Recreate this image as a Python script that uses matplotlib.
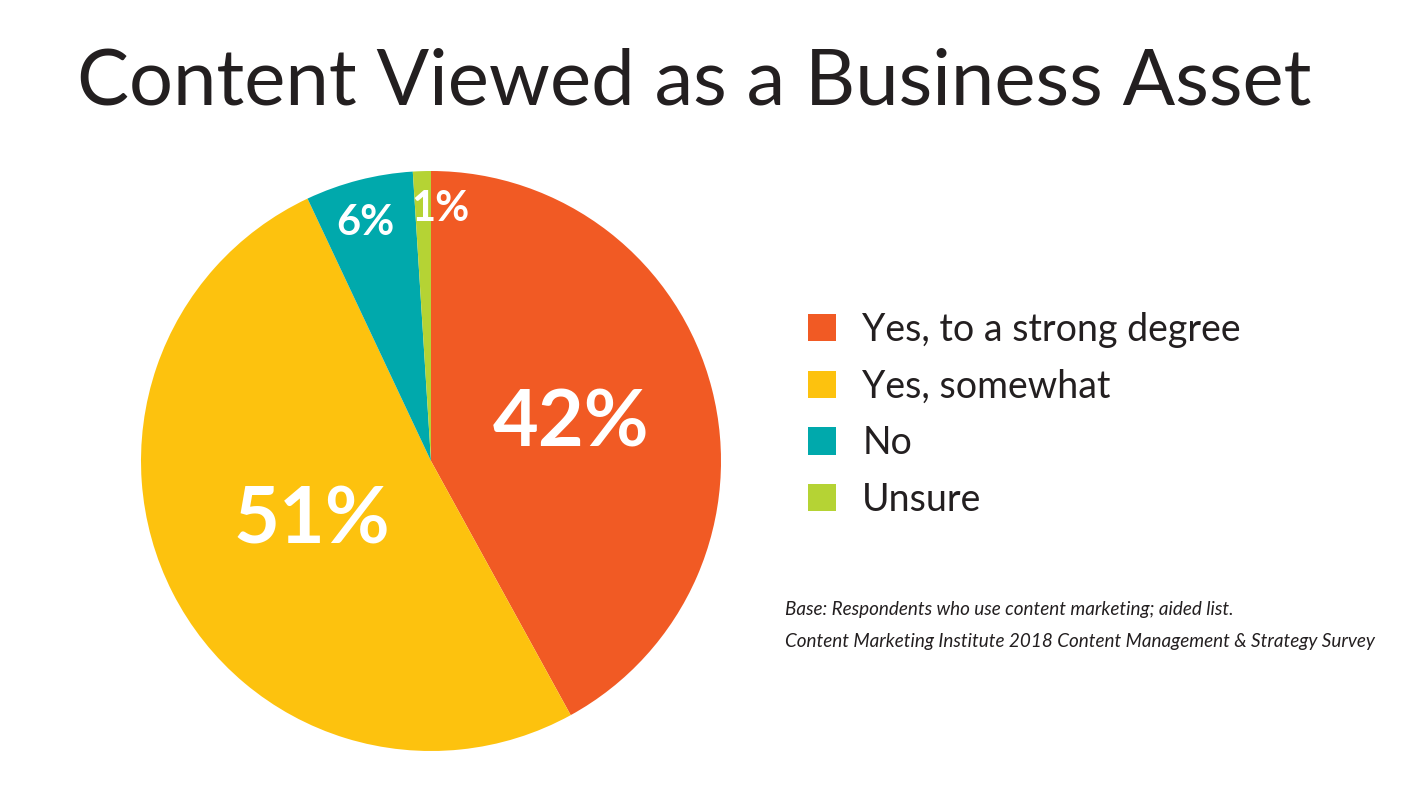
import matplotlib.pyplot as plt
import numpy as np
from matplotlib.patches import Patch

categories = ['Yes, to a strong degree', 'Yes, somewhat', 'No', 'Unsure']
values = [42, 51, 6, 1]
colors = ['#F15A24', '#FDC20E', '#00A9AC', '#B5D334']
label_sizes = [57, 57, 30, 30]
label_radius = [0.50, 0.46, 0.85, 0.87]

W, H = 1423, 796
fig = plt.figure(figsize=(W / 100, H / 100), dpi=100)
fig.patch.set_facecolor('white')

# pie area in pixel terms: centre (431,461), radius 290
ax = fig.add_axes([141 / W, (H - 751) / H, 580 / W, 580 / H])
wedges, _ = ax.pie(values, colors=colors, startangle=90, counterclock=False,
                   radius=1, wedgeprops=dict(linewidth=0))
ax.set_xlim(-1, 1)
ax.set_ylim(-1, 1)
ax.set_aspect('equal')

for w, v, fs, r in zip(wedges, values, label_sizes, label_radius):
    ang = np.deg2rad((w.theta1 + w.theta2) / 2)
    if v == 6:
        ang += np.deg2rad(1)
    if v == 1:
        ang -= np.deg2rad(4)
    ax.text(r * np.cos(ang), r * np.sin(ang), f'{v}%', ha='center', va='center',
            color='white', fontsize=fs, fontweight='bold', family='Lato')

fig.text(694 / W, 1 - 83 / H, 'Content Viewed as a Business Asset', ha='center', va='center',
         fontsize=56, family='Lato', fontweight='normal', color='#231F20')

handles = [Patch(facecolor=c, edgecolor='none') for c in colors]
fig.legend(handles, categories, loc='upper left', bbox_to_anchor=(774 / W, 1 - 278 / H),
           frameon=False, prop=dict(family='Lato', size=27),
           handlelength=0.75, handleheight=0.75, handletextpad=0.7, labelspacing=0.55,
           labelcolor='#231F20')

fig.text(785 / W, 1 - 610 / H, 'Base: Respondents who use content marketing; aided list.',
         fontsize=13.6, style='italic', family='Lato', color='#231F20', va='center')
fig.text(785 / W, 1 - 641 / H,
         'Content Marketing Institute 2018 Content Management & Strategy Survey',
         fontsize=13.6, style='italic', family='Lato', color='#231F20', va='center')

fig.savefig('out.png', dpi=100)
